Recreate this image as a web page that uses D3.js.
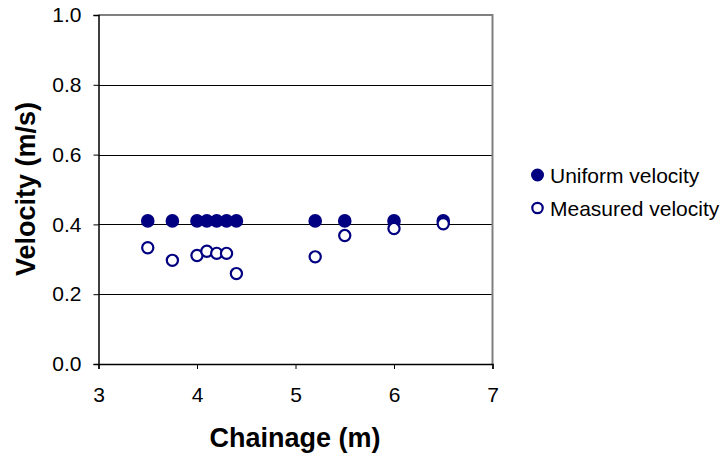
<!DOCTYPE html>
<html><head><meta charset="utf-8">
<script src="https://cdn.jsdelivr.net/npm/d3@7"></script>
<style>body{margin:0;background:#fff}svg{display:block;font-family:"Liberation Sans",Arial,sans-serif}</style>
</head><body><svg id="c" width="726" height="457"></svg>
<script>
const chainage = [3.5, 3.75, 4.0, 4.1, 4.2, 4.3, 4.4, 5.2, 5.5, 6.0, 6.5];
const uniformVelocity = [0.41, 0.41, 0.41, 0.41, 0.41, 0.41, 0.41, 0.41, 0.41, 0.41, 0.41];
const measuredVelocity = [0.333, 0.297, 0.311, 0.323, 0.317, 0.317, 0.259, 0.307, 0.368, 0.388, 0.402];
const xTicks = [3, 4, 5, 6, 7];
const yTicks = [0, 0.2, 0.4, 0.6, 0.8, 1.0];
const seriesNames = ["Uniform velocity", "Measured velocity"];

const navy = "#000080";
const svg = d3.select("#c");
const x = d3.scaleLinear().domain([3, 7]).range([98.5, 492.5]);
const y = d3.scaleLinear().domain([0, 1]).range([364, 15]);

// gridlines
svg.append("g").selectAll("line").data(yTicks.filter(d => d > 0 && d < 1)).join("line")
  .attr("x1", x(3)).attr("x2", x(7)).attr("y1", d => Math.round(y(d)) + 0.5).attr("y2", d => Math.round(y(d)) + 0.5)
  .attr("stroke", "#000").attr("stroke-width", 1);

// top & right border (gray)
svg.append("path").attr("d", `M${x(3)},${y(1)}H${x(7)}V${y(0)}`)
  .attr("fill", "none").attr("stroke", "#808080").attr("stroke-width", 2);

// axes
const yAxis = d3.axisLeft(y).tickValues(yTicks).tickFormat(d3.format(".1f")).tickSizeOuter(0).tickSize(5).tickPadding(12);
const xAxis = d3.axisBottom(x).tickValues(xTicks).tickFormat(d3.format("d")).tickSizeOuter(0).tickSize(5).tickPadding(18);
const gy = svg.append("g").attr("transform", `translate(${x(3)},0)`).call(yAxis);
const gx = svg.append("g").attr("transform", `translate(0,${y(0)})`).call(xAxis);
[gy, gx].forEach(g => {
  g.select(".domain").attr("stroke", "#000").attr("stroke-width", 1.5);
  g.selectAll(".tick line").attr("stroke", "#000");
  g.selectAll(".tick text").attr("fill", "#000").attr("font-size", 21).attr("font-family", "Liberation Sans, Arial, sans-serif");
});

// data points
const pts = chainage.map((c, i) => ({c, u: uniformVelocity[i], m: measuredVelocity[i]}));
svg.append("g").selectAll("circle").data(pts).join("circle")
  .attr("cx", d => x(d.c)).attr("cy", d => y(d.u)).attr("r", 6.8).attr("fill", navy);
svg.append("g").selectAll("circle").data(pts).join("circle")
  .attr("cx", d => x(d.c)).attr("cy", d => y(d.m)).attr("r", 5.6).attr("fill", "#fff")
  .attr("stroke", navy).attr("stroke-width", 2.2);

// axis titles
svg.append("text").attr("x", 295).attr("y", 447).attr("text-anchor", "middle")
  .attr("font-size", 27).attr("font-weight", "bold").text("Chainage (m)");
svg.append("text").attr("transform", "translate(35,189) rotate(-90)").attr("text-anchor", "middle")
  .attr("font-size", 27).attr("font-weight", "bold").text("Velocity (m/s)");

// legend
const lg = svg.append("g");
const ly = [175, 208];
lg.append("circle").attr("cx", 537.5).attr("cy", ly[0]).attr("r", 6.5).attr("fill", navy);
lg.append("circle").attr("cx", 537.5).attr("cy", ly[1]).attr("r", 5.2).attr("fill", "#fff").attr("stroke", navy).attr("stroke-width", 2.2);
seriesNames.forEach((n, i) => {
  lg.append("text").attr("x", 550).attr("y", ly[i] + 7.5).attr("font-size", 21).attr("fill", "#000").text(n);
});
</script></body></html>
